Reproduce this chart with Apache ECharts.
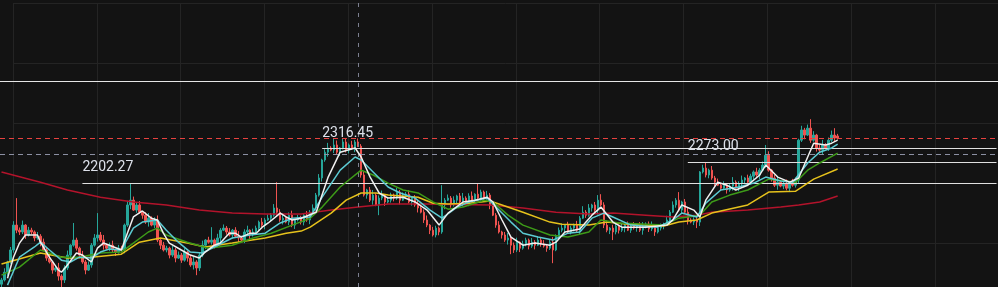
<!DOCTYPE html>
<html>
<head>
<meta charset="utf-8">
<script src="https://cdn.jsdelivr.net/npm/echarts@6/dist/echarts.min.js"></script>
<style>
html,body{margin:0;padding:0;background:#131313;}
#chart{width:998px;height:287px;}
</style>
</head>
<body>
<div id="chart"></div>
<script>
// candles: [open, close, low, high]
const candles = [
[1865,1879,1855,1886],[1879,1905,1874,1918],[1905,1939,1893,1943],[1939,1979,1933,1989],[1979,2062,1970,2075],
[2062,2045,2035,2152],[2045,2039,2029,2054],[2039,2062,2032,2077],[2062,2029,2016,2065],[2029,2045,2024,2056],
[2045,2039,2031,2053],[2039,2019,2008,2044],[2019,2025,2013,2039],[2025,2005,1991,2032],[2005,1979,1976,2017],
[1979,1952,1943,1986],[1952,1939,1934,1965],[1939,1912,1900,1943],[1912,1919,1906,1929],[1919,1892,1877,1936],
[1892,1879,1855,1898],[1879,1919,1869,1928],[1919,1962,1912,1977],[1962,1995,1949,1998],[1995,2012,1990,2069],
[2012,1985,1977,2020],[1985,1962,1951,1990],[1962,1939,1933,1976],[1939,1912,1898,1946],[1912,1929,1909,1941],
[1929,1995,1920,2002],[1995,2019,1990,2032],[2019,2029,2007,2102],[2029,2012,2006,2039],[2012,1995,1980,2029],
[1995,1985,1981,2001],[1985,1995,1975,2004],[1995,1979,1972,2010],[1979,1972,1959,1982],[1972,1985,1967,1996],
[1985,1979,1971,1993],[1979,2062,1968,2067],[2062,2129,2056,2143],[2129,2145,2115,2199],[2145,2112,2109,2157],
[2112,2129,2103,2136],[2129,2105,2100,2142],[2105,2095,2083,2109],[2095,2072,2066,2105],[2072,2085,2057,2102],
[2085,2062,2058,2091],[2062,2079,2052,2088],[2079,2012,2005,2094],[2012,1995,1982,2015],[1995,1979,1974,2006],
[1979,1985,1971,1993],[1985,1962,1951,1990],[1962,1979,1956,1993],[1979,1952,1938,1986],[1952,1962,1949,1974],
[1962,1945,1936,1969],[1945,1972,1940,1985],[1972,1952,1940,1976],[1952,1929,1923,1962],[1929,1939,1914,1956],
[1939,1919,1895,1945],[1919,1962,1909,1971],[1962,1995,1955,2010],[1995,2012,1982,2015],[2012,2005,2000,2023],
[2005,2012,1997,2055],[2012,1995,1984,2017],[1995,2019,1989,2033],[2019,2045,2005,2052],[2045,2052,2042,2064],
[2052,2039,2030,2059],[2039,2029,2024,2052],[2029,2045,2017,2049],[2045,2025,2019,2055],[2025,2019,2004,2042],
[2019,2012,2008,2025],[2012,2039,2002,2048],[2039,2045,2032,2060],[2045,2029,2016,2048],[2029,2039,2024,2050],
[2039,2052,2031,2060],[2052,2072,2041,2077],[2072,2062,2056,2086],[2062,2079,2048,2086],[2079,2085,2076,2097],
[2085,2095,2076,2102],[2095,2119,2090,2132],[2119,2105,2093,2205],[2105,2079,2073,2115],[2079,2085,2064,2102],
[2085,2072,2068,2091],[2072,2095,2062,2104],[2095,2062,2055,2110],[2062,2079,2049,2082],[2079,2085,2074,2096],
[2085,2072,2064,2093],[2072,2095,2061,2100],[2095,2079,2073,2109],[2079,2105,2065,2112],[2105,2119,2102,2131],
[2119,2162,2110,2169],[2162,2219,2157,2232],[2219,2279,2207,2283],[2279,2305,2273,2315],[2305,2319,2290,2336],
[2319,2312,2308,2325],[2312,2329,2302,2352],[2329,2305,2298,2344],[2305,2319,2292,2322],[2319,2339,2314,2350],
[2339,2312,2304,2352],[2312,2329,2301,2334],[2329,2319,2313,2343],[2319,2339,2305,2346],[2339,2325,2322,2351],
[2325,2229,2220,2332],[2229,2162,2157,2242],[2162,2179,2150,2183],[2179,2145,2139,2189],[2145,2162,2130,2179],
[2162,2129,2125,2168],[2129,2152,2095,2161],[2152,2162,2145,2177],[2162,2139,2126,2165],[2139,2145,2134,2156],
[2145,2162,2137,2170],[2162,2152,2141,2167],[2152,2172,2146,2186],[2172,2145,2131,2179],[2145,2159,2142,2171],
[2159,2165,2150,2172],[2165,2139,2134,2178],[2139,2152,2127,2156],[2152,2129,2123,2162],[2129,2119,2104,2146],
[2119,2105,2101,2125],[2105,2079,2069,2114],[2079,2062,2055,2094],[2062,2045,2032,2065],[2045,2029,2024,2056],
[2029,2052,2021,2060],[2052,2039,2028,2057],[2039,2129,2033,2195],[2129,2145,2115,2152],[2145,2152,2142,2164],
[2152,2129,2120,2159],[2129,2145,2124,2158],[2145,2159,2133,2163],[2159,2139,2133,2169],[2139,2152,2124,2169],
[2152,2135,2131,2158],[2135,2159,2125,2168],[2159,2145,2138,2174],[2145,2165,2132,2168],[2165,2152,2147,2199],
[2152,2172,2144,2180],[2172,2152,2141,2177],[2152,2162,2146,2176],[2162,2129,2115,2169],[2129,2095,2092,2141],
[2095,2062,2053,2102],[2062,2039,2034,2075],[2039,2029,2017,2043],[2029,2012,2006,2039],[2012,2019,1997,2036],
[2019,1995,1965,2025],[1995,1979,1969,2004],[1979,2005,1972,2020],[2005,1985,1972,2008],[1985,1999,1980,2010],
[1999,2012,1991,2020],[2012,1992,1981,2017],[1992,2005,1986,2019],[2005,1995,1981,2012],[1995,2012,1992,2024],
[2012,1999,1990,2019],[1999,1992,1987,2012],[1992,1985,1973,1996],[1985,2005,1979,2015],[2005,1979,1935,2022],
[1979,2025,1975,2031],[2025,2045,2015,2054],[2045,2052,2038,2067],[2052,2062,2039,2065],[2062,2039,2034,2073],
[2039,2052,2031,2060],[2052,2062,2041,2067],[2062,2045,2039,2076],[2045,2085,2031,2092],[2085,2105,2082,2125],
[2105,2095,2086,2112],[2095,2119,2090,2132],[2119,2129,2107,2133],[2129,2112,2106,2139],[2112,2145,2097,2162],
[2145,2129,2125,2165],[2129,2062,2052,2138],[2062,2045,2038,2077],[2045,2052,2032,2055],[2052,2039,2012,2063],
[2039,2059,2031,2067],[2059,2045,2034,2064],[2045,2052,2039,2066],[2052,2062,2038,2069],[2062,2045,2042,2074],
[2045,2059,2036,2066],[2059,2052,2047,2072],[2052,2062,2040,2066],[2062,2045,2039,2072],[2045,2055,2030,2072],
[2055,2065,2051,2071],[2065,2049,2039,2074],[2049,2059,2042,2074],[2059,2039,2026,2062],[2039,2052,2034,2063],
[2052,2059,2044,2067],[2059,2065,2048,2070],[2065,2079,2059,2093],[2079,2105,2065,2112],[2105,2129,2102,2141],
[2129,2145,2120,2152],[2145,2112,2107,2172],[2112,2139,2100,2143],[2139,2105,2099,2149],[2105,2079,2064,2122],
[2079,2072,2068,2085],[2072,2079,2062,2088],[2079,2072,2052,2094],[2072,2239,2059,2242],[2239,2252,2234,2263],
[2252,2229,2221,2269],[2229,2245,2218,2250],[2245,2219,2213,2259],[2219,2205,2191,2226],[2205,2195,2192,2217],
[2195,2185,2176,2202],[2185,2195,2180,2208],[2195,2179,2167,2199],[2179,2192,2173,2202],[2192,2205,2177,2222],
[2205,2185,2181,2211],[2185,2199,2175,2208],[2199,2212,2192,2227],[2212,2219,2199,2222],[2219,2205,2200,2230],
[2205,2225,2197,2233],[2225,2239,2214,2244],[2239,2229,2223,2253],[2229,2245,2215,2252],[2245,2262,2242,2274],
[2262,2295,2253,2329],[2295,2245,2240,2308],[2245,2219,2207,2249],[2219,2195,2189,2229],[2195,2205,2180,2222],
[2205,2192,2188,2211],[2192,2199,2182,2208],[2199,2185,2178,2214],[2185,2205,2172,2208],[2205,2195,2190,2216],
[2195,2212,2187,2220],[2212,2345,2201,2350],[2345,2379,2339,2393],[2379,2362,2348,2386],[2362,2385,2359,2397],
[2385,2345,2336,2415],[2345,2362,2340,2375],[2362,2319,2307,2366],[2319,2312,2306,2329],[2312,2329,2297,2346],
[2329,2319,2315,2335],[2319,2345,2309,2354],[2345,2362,2338,2377],[2362,2352,2339,2385],[2359,2352,2347,2366]
];

// moving averages: [candle index, value]
const ma5 = [[2,1885],[4,1955],[6,2002],[8,2029],[12,2029],[13,2005],[16,1955],[19,1912],[20,1905],[22,1929],[25,1969],[27,1962],[30,1939],[32,1985],[34,2002],[36,1995],[40,1979],[42,2035],[44,2089],[47,2109],[50,2085],[52,2079],[54,2035],[56,2002],[60,1979],[63,1962],[66,1952],[68,1972],[71,1995],[73,2002],[76,2035],[78,2035],[80,2022],[83,2035],[85,2035],[87,2055],[89,2069],[93,2102],[95,2089],[97,2079],[100,2085],[105,2105],[109,2222],[113,2305],[118,2319],[120,2289],[123,2222],[126,2169],[129,2152],[134,2155],[138,2139],[142,2112],[146,2062],[149,2102],[154,2139],[158,2145],[162,2155],[164,2139],[167,2079],[170,2022],[174,1995],[178,2002],[183,1995],[185,2005],[188,2039],[193,2049],[197,2095],[200,2122],[204,2072],[207,2055],[215,2055],[222,2062],[224,2079],[227,2129],[231,2112],[233,2089],[235,2145],[239,2205],[242,2195],[245,2179],[249,2195],[253,2229],[255,2262],[259,2222],[263,2205],[266,2219],[269,2289],[271,2335],[275,2329],[277,2335],[279,2345]];
const ma10 = [[2,1862],[6,1955],[11,1989],[13,2005],[16,1979],[20,1945],[23,1939],[26,1955],[30,1952],[33,1972],[36,1982],[40,1979],[44,2052],[47,2072],[52,2079],[55,2045],[59,2005],[63,1972],[67,1969],[71,1989],[77,2019],[83,2029],[88,2035],[93,2069],[97,2085],[103,2089],[107,2155],[113,2245],[118,2289],[120,2279],[124,2239],[129,2189],[133,2169],[138,2152],[143,2112],[147,2085],[152,2122],[156,2139],[162,2152],[165,2122],[170,2072],[174,2035],[179,2022],[184,2012],[189,2035],[193,2039],[197,2085],[201,2102],[204,2089],[210,2062],[219,2055],[224,2079],[227,2102],[232,2089],[235,2135],[240,2179],[246,2189],[251,2202],[255,2222],[260,2209],[264,2205],[269,2269],[273,2305],[277,2319],[279,2332]];
const ma20 = [[0,1895],[6,1922],[13,1979],[16,1969],[20,1955],[26,1955],[33,1969],[40,1972],[44,2002],[49,2039],[52,2052],[55,2029],[62,2005],[69,1985],[77,1995],[84,2019],[90,2035],[97,2062],[103,2085],[107,2122],[113,2189],[120,2245],[124,2229],[129,2202],[134,2179],[139,2169],[144,2139],[149,2115],[154,2122],[161,2145],[164,2139],[169,2095],[174,2062],[183,2029],[189,2022],[196,2039],[200,2079],[206,2069],[221,2062],[226,2085],[233,2095],[237,2139],[243,2162],[249,2179],[256,2215],[265,2205],[269,2245],[273,2269],[279,2302]];
const ma60 = [[0,1932],[13,1969],[22,1952],[30,1955],[40,1965],[46,2005],[53,2019],[62,2002],[68,1989],[77,2002],[88,2019],[95,2035],[100,2042],[103,2055],[110,2102],[115,2145],[120,2169],[125,2169],[129,2162],[139,2155],[144,2135],[149,2132],[156,2135],[163,2142],[167,2129],[174,2105],[183,2072],[187,2065],[196,2062],[202,2072],[209,2065],[221,2059],[226,2072],[232,2079],[237,2102],[249,2129],[256,2172],[265,2175],[271,2215],[279,2249]];
const ma250 = [[0,2239],[13,2205],[22,2179],[33,2155],[44,2139],[55,2129],[66,2112],[77,2102],[88,2099],[100,2099],[110,2112],[119,2122],[129,2132],[141,2132],[163,2129],[174,2119],[185,2105],[196,2099],[204,2102],[215,2095],[224,2089],[232,2095],[237,2105],[249,2112],[260,2122],[266,2129],[273,2139],[279,2159]];

// price levels
const levelValues = [2202.27, 2316.45, 2273.00];
const levelStarts = [27, 107, 229];
const fullLevel = 2542;
const lastPrice = 2352;
const grayLevel = 2299;
const crossIndex = 119;

const padCount = 53;
const categories = [];
for (let i = 0; i < candles.length + padCount; i++) categories.push(String(i));
const lastCat = categories.length - 1;

const chart = echarts.init(document.getElementById('chart'), null, {renderer: 'canvas'});

const segLines = levelValues.map((v, k) => [
  {coord: [levelStarts[k], v],
   lineStyle: {color: '#e0e0e0', width: 1.2, type: 'solid'},
   label: {show: true, position: 'insideStartTop', formatter: v.toFixed(2), color: '#dde1ea', fontSize: 14, fontFamily: 'Roboto', distance: [0, 8]}},
  {coord: [lastCat, v]}
]);

const maSeries = (data, color, z) => ({
  type: 'line', data, xAxisIndex: 0, yAxisIndex: 0, symbol: 'none', smooth: false, z,
  lineStyle: {color, width: 1.5}, silent: true
});

chart.setOption({
  animation: false,
  backgroundColor: '#131313',
  grid: [
    {left: 0, right: 0, top: 3, bottom: 0},
    {left: 13, right: 0, top: 3, bottom: 0}
  ],
  xAxis: [
    {type: 'category', data: categories, gridIndex: 0, boundaryGap: true,
     axisLine: {show: false}, axisTick: {show: false}, axisLabel: {show: false}, splitLine: {show: false}},
    {type: 'value', gridIndex: 1, min: 0, max: 985 / 83.8, interval: 1,
     axisLine: {show: false}, axisTick: {show: false}, axisLabel: {show: false},
     splitLine: {show: true, showMaxLine: false, lineStyle: {color: '#242424', width: 1}}}
  ],
  yAxis: [
    {type: 'value', gridIndex: 0, min: 1855.6, max: 2802.27,
     axisLine: {show: false}, axisTick: {show: false}, axisLabel: {show: false}, splitLine: {show: false}},
    {type: 'value', gridIndex: 1, min: 0, max: 284 / 60, interval: 1, inverse: true,
     axisLine: {show: false}, axisTick: {show: false}, axisLabel: {show: false},
     splitLine: {show: true, showMaxLine: false, lineStyle: {color: '#242424', width: 1}}}
  ],
  series: [
    {type: 'line', xAxisIndex: 1, yAxisIndex: 1, data: [], silent: true},
    {
      type: 'candlestick', xAxisIndex: 0, yAxisIndex: 0, data: candles, barWidth: 2, z: 3,
      itemStyle: {color: '#26a69a', color0: '#ef5350', borderColor: '#26a69a', borderColor0: '#ef5350', borderWidth: 1},
      markLine: {
        silent: true, symbol: 'none', animation: false,
        data: [
          {yAxis: fullLevel, lineStyle: {color: '#e6e6e6', width: 1, type: 'solid'}, label: {show: false}},
          {yAxis: lastPrice, lineStyle: {color: '#e8423f', width: 1, type: [5, 4]}, label: {show: false}},
          {yAxis: grayLevel, lineStyle: {color: '#8c90a3', width: 1, type: [5, 4]}, label: {show: false}},
          {xAxis: crossIndex, lineStyle: {color: '#7d8090', width: 1, type: [4, 6]}, label: {show: false}},
          ...segLines
        ]
      }
    },
    maSeries(ma250, '#b3132b', 4),
    maSeries(ma60, '#e6c21c', 5),
    maSeries(ma20, '#3d9a18', 6),
    maSeries(ma10, '#5ccbd3', 7),
    maSeries(ma5, '#f0f0f0', 8)
  ]
});
</script>
</body>
</html>
